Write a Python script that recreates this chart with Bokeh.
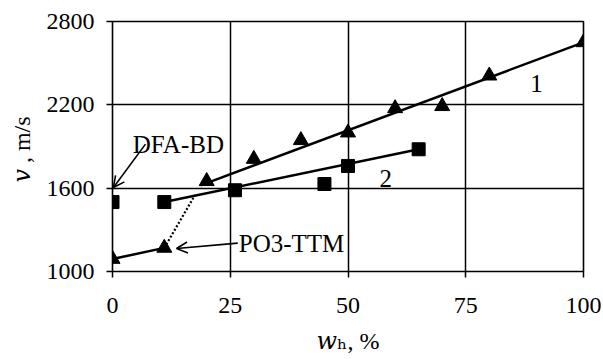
from bokeh.plotting import figure
from bokeh.models import Range1d, FixedTicker, Label, Arrow, OpenHead
from bokeh.embed import file_html
from bokeh.resources import INLINE

# Series 1 (triangles)
s1_x = [0, 11, 20, 30, 40, 50, 60, 70, 80, 100]
s1_y = [1090, 1170, 1650, 1810, 1945, 2000, 2175, 2190, 2410, 2650]
# Series 1 trend lines
s1_low_x = [0, 11]
s1_low_y = [1090, 1170]
s1_dot_x = [11, 17.5]
s1_dot_y = [1170, 1550]
s1_fit_x = [18.7, 100]
s1_fit_y = [1620, 2650]

# Series 2 (squares)
s2_x = [0, 11, 26, 45, 50, 65]
s2_y = [1500, 1500, 1585, 1630, 1760, 1880]
s2_fit_x = [11, 65]
s2_fit_y = [1500, 1880]

x_ticks = [0, 25, 50, 75, 100]
y_ticks = [1000, 1600, 2200, 2800]

FONT = "Liberation Serif"
FS = "24px"

p = figure(width=603, height=359, x_range=Range1d(0, 100), y_range=Range1d(1000, 2800),
           output_backend="svg", toolbar_location=None,
           min_border_left=112, min_border_right=20, min_border_top=21, min_border_bottom=88)
p.background_fill_color = "white"
p.border_fill_color = "white"
p.outline_line_color = "black"
p.outline_line_width = 1.6

for ax, ticks in ((p.xaxis, x_ticks), (p.yaxis, y_ticks)):
    ax.ticker = FixedTicker(ticks=ticks)
    ax.axis_line_color = None
    ax.major_tick_in = 0
    ax.major_tick_out = 6
    ax.major_tick_line_width = 1.5
    ax.major_tick_line_color = "black"
    ax.minor_tick_line_color = None
    ax.major_label_text_font = FONT
    ax.major_label_text_font_size = FS
    ax.major_label_text_color = "black"
    ax.axis_label_text_font = "'Liberation Serif', 'DejaVu Serif', serif"
    ax.axis_label_text_font_size = FS
    ax.axis_label_text_font_style = "normal"
    ax.axis_label_text_color = "black"
p.xaxis.major_label_standoff = 20
p.yaxis.major_label_standoff = 12
p.yaxis.axis_label = "𝑣 ,  m/s"
p.yaxis.axis_label_standoff = 9
p.xaxis.axis_label = "𝑤ₕ, %"
p.xaxis.axis_label_standoff = 12

p.xgrid.ticker = FixedTicker(ticks=x_ticks)
p.ygrid.ticker = FixedTicker(ticks=y_ticks)
for g in (p.xgrid, p.ygrid):
    g.grid_line_color = "black"
    g.grid_line_width = 1.5

# lines
p.line(s1_low_x, s1_low_y, line_color="black", line_width=2.5)
p.line(s1_dot_x, s1_dot_y, line_color="black", line_width=2.2, line_dash="2 2")
p.line(s1_fit_x, s1_fit_y, line_color="black", line_width=2.5)
p.line(s2_fit_x, s2_fit_y, line_color="black", line_width=2.5)

# markers
p.scatter(s1_x, s1_y, marker="triangle", size=15, fill_color="black", line_color="black")
p.scatter(s2_x, s2_y, marker="square", size=13, fill_color="black", line_color="black")

# annotations
def lab(x, y, t, size="25px", align="left", baseline="alphabetic"):
    p.add_layout(Label(x=x, y=y, text=t, text_font=FONT, text_font_size=size,
                       text_align=align, text_baseline=baseline, text_color="black"))

lab(4.3, 1917, "DFA-BD")
lab(26.8, 1204, "PO3-TTM", baseline="middle")
lab(90, 2354, "1", align="center", baseline="middle")
lab(58, 1672, "2", align="center", baseline="middle")

p.add_layout(Arrow(x_start=7, y_start=1917, x_end=0.2, y_end=1605,
                   line_color="black", line_width=1.6,
                   end=OpenHead(size=11, line_color="black", line_width=1.6)))
p.add_layout(Arrow(x_start=26.6, y_start=1204, x_end=13.6, y_end=1166,
                   line_color="black", line_width=1.6,
                   end=OpenHead(size=11, line_color="black", line_width=1.6)))

open("out.html", "w").write(file_html(p, INLINE))
